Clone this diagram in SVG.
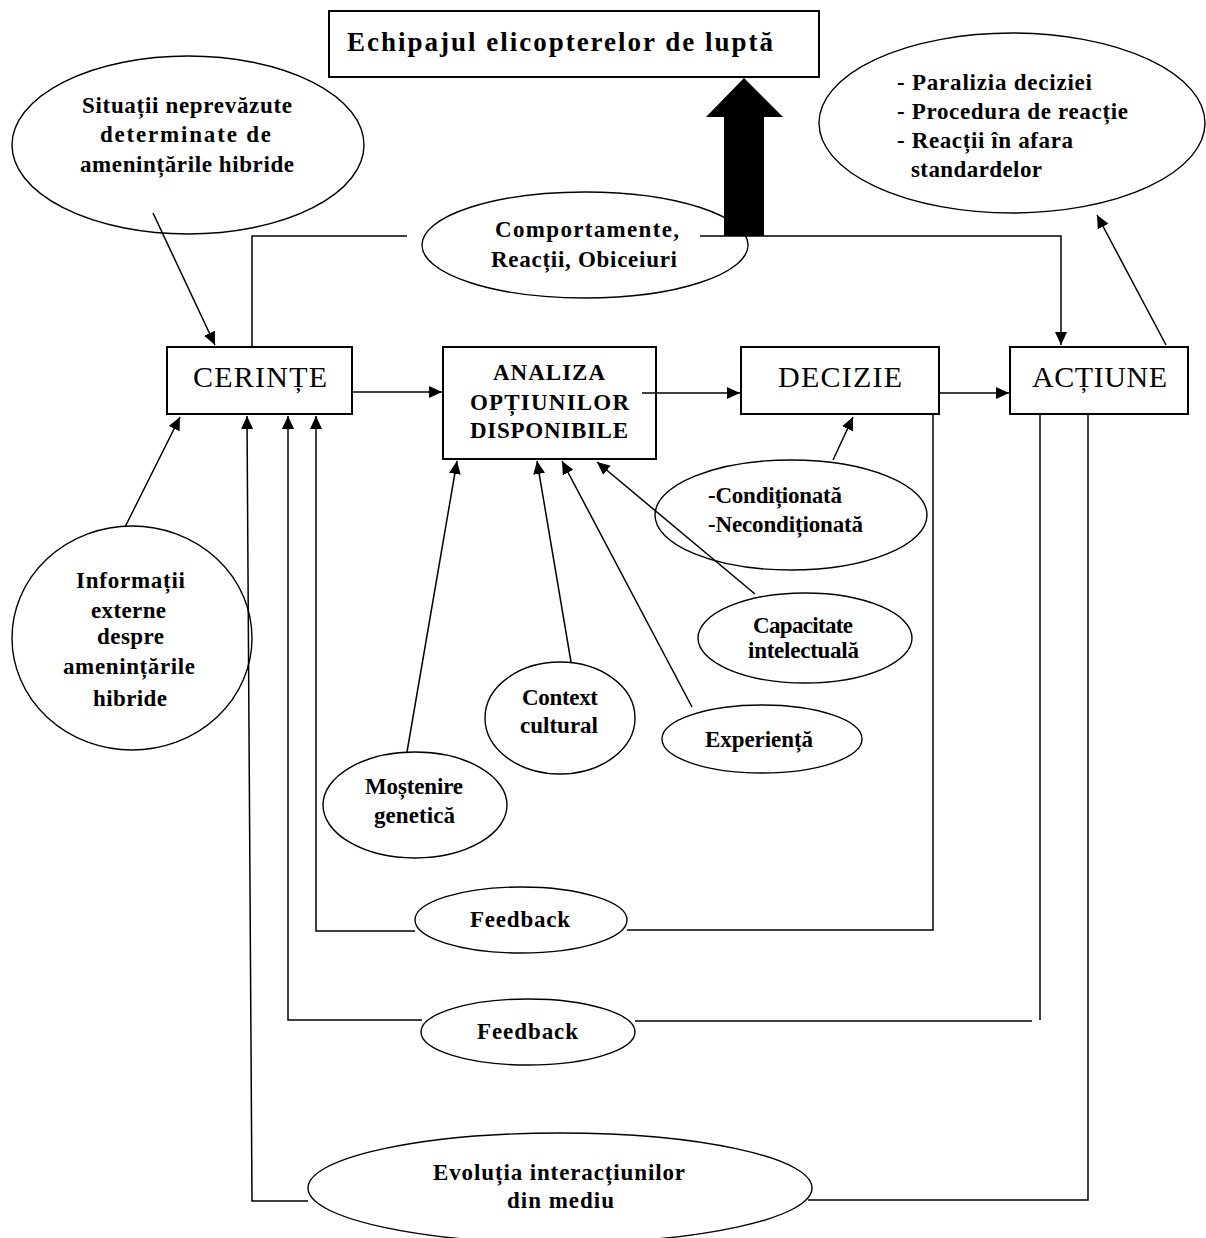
<svg xmlns="http://www.w3.org/2000/svg" width="1206" height="1238" viewBox="0 0 1206 1238">
<style>
.bg{fill:#fff}
.box{fill:#fff;stroke:#000;stroke-width:2}
.ell{fill:#fff;stroke:#000;stroke-width:1.4}
.ln{fill:none;stroke:#000;stroke-width:1.5}
.ar{fill:none;stroke:#000;stroke-width:1.5;marker-end:url(#ah)}
text{font-family:"Liberation Serif","Times New Roman",serif;fill:#000}
.b{font-weight:bold;font-size:23px}
.n{font-weight:normal;font-size:30px}
.ti{font-weight:bold;font-size:27px}
</style>
<defs>
<marker id="ah" markerUnits="userSpaceOnUse" markerWidth="14" markerHeight="12" refX="13" refY="6" orient="auto">
<path d="M0,0 L13,6 L0,12 z" fill="#000"/>
</marker>
</defs>
<rect class="bg" x="0" y="0" width="1206" height="1238"/>

<g id="node-echipaj">
<rect class="box" x="329" y="11" width="490" height="66"/>
<text class="ti" x="347" y="51" textLength="426" lengthAdjust="spacing">Echipajul elicopterelor de luptă</text>
</g>

<g id="node-situatii">
<ellipse class="ell" cx="188" cy="145" rx="176" ry="89"/>
<text class="b" x="82" y="113" textLength="210" lengthAdjust="spacing">Situații neprevăzute</text>
<text class="b" x="100" y="142" textLength="171" lengthAdjust="spacing">determinate de</text>
<text class="b" x="80" y="172" textLength="214" lengthAdjust="spacing">amenințările hibride</text>
</g>

<g id="node-reactii-list">
<ellipse class="ell" cx="1012" cy="123" rx="193" ry="90"/>
<text class="b" x="897" y="90" textLength="195" lengthAdjust="spacing">- Paralizia deciziei</text>
<text class="b" x="897" y="119" textLength="231" lengthAdjust="spacing">- Procedura de reacție</text>
<text class="b" x="897" y="148" textLength="176" lengthAdjust="spacing">- Reacții în afara</text>
<text class="b" x="911" y="177" textLength="131" lengthAdjust="spacing">standardelor</text>
</g>

<g id="node-comportamente">
<ellipse class="ell" cx="585" cy="245" rx="163" ry="53"/>
<text class="b" x="495" y="237" textLength="184" lengthAdjust="spacing">Comportamente,</text>
<text class="b" x="491" y="267" textLength="186" lengthAdjust="spacing">Reacții, Obiceiuri</text>
</g>

<g id="node-cerinte">
<rect class="box" x="167" y="347" width="185" height="67"/>
<text class="n" x="193" y="387" textLength="134" lengthAdjust="spacing">CERINȚE</text>
</g>

<g id="node-analiza">
<rect class="box" x="443" y="347" width="213" height="112"/>
<text class="b" x="493" y="380" textLength="112" lengthAdjust="spacing">ANALIZA</text>
<text class="b" x="470" y="410" textLength="159" lengthAdjust="spacing">OPȚIUNILOR</text>
<text class="b" x="470" y="438" textLength="158" lengthAdjust="spacing">DISPONIBILE</text>
</g>

<g id="node-decizie">
<rect class="box" x="741" y="347" width="198" height="67"/>
<text class="n" x="778" y="387" textLength="124" lengthAdjust="spacing">DECIZIE</text>
</g>

<g id="node-actiune">
<rect class="box" x="1010" y="347" width="178" height="67"/>
<text class="n" x="1032" y="387" textLength="135" lengthAdjust="spacing">ACȚIUNE</text>
</g>

<g id="node-conditionata">
<ellipse class="ell" cx="791" cy="515" rx="136" ry="55"/>
<text class="b" x="708" y="503" textLength="134" lengthAdjust="spacing">-Condiționată</text>
<text class="b" x="708" y="532" textLength="155" lengthAdjust="spacing">-Necondiționată</text>
</g>

<g id="node-informatii">
<ellipse class="ell" cx="132" cy="638" rx="120" ry="112"/>
<text class="b" x="76" y="588" textLength="109" lengthAdjust="spacing">Informații</text>
<text class="b" x="91" y="618" textLength="75" lengthAdjust="spacing">externe</text>
<text class="b" x="97" y="644" textLength="67" lengthAdjust="spacing">despre</text>
<text class="b" x="63" y="674" textLength="132" lengthAdjust="spacing">amenințările</text>
<text class="b" x="93" y="706" textLength="74" lengthAdjust="spacing">hibride</text>
</g>

<g id="node-capacitate">
<ellipse class="ell" cx="805" cy="638" rx="107" ry="45"/>
<text class="b" x="753" y="633" textLength="100" lengthAdjust="spacing">Capacitate</text>
<text class="b" x="748" y="658" textLength="111" lengthAdjust="spacing">intelectuală</text>
</g>

<g id="node-context">
<ellipse class="ell" cx="560" cy="718" rx="75" ry="56"/>
<text class="b" x="522" y="705" textLength="76" lengthAdjust="spacing">Context</text>
<text class="b" x="520" y="733" textLength="78" lengthAdjust="spacing">cultural</text>
</g>

<g id="node-experienta">
<ellipse class="ell" cx="762" cy="739" rx="100" ry="34"/>
<text class="b" x="705" y="747" textLength="108" lengthAdjust="spacing">Experiență</text>
</g>

<g id="node-mostenire">
<ellipse class="ell" cx="415" cy="805" rx="92" ry="53"/>
<text class="b" x="365" y="794" textLength="98" lengthAdjust="spacing">Moștenire</text>
<text class="b" x="374" y="823" textLength="81" lengthAdjust="spacing">genetică</text>
</g>

<g id="node-feedback1">
<ellipse class="ell" cx="521" cy="920" rx="106" ry="33"/>
<text class="b" x="470" y="927" textLength="100" lengthAdjust="spacing">Feedback</text>
</g>

<g id="node-feedback2">
<ellipse class="ell" cx="528" cy="1032" rx="107" ry="33"/>
<text class="b" x="477" y="1039" textLength="101" lengthAdjust="spacing">Feedback</text>
</g>

<g id="node-evolutia">
<ellipse class="ell" cx="560" cy="1188" rx="252" ry="55"/>
<text class="b" x="433" y="1180" textLength="252" lengthAdjust="spacing">Evoluția interacțiunilor</text>
<text class="b" x="507" y="1208" textLength="107" lengthAdjust="spacing">din mediu</text>
</g>

<g id="connectors">
<polygon points="724,236 724,117 706,117 744,78 783,117 764,117 764,236" fill="#000"/>
<line class="ar" x1="153" y1="213" x2="215" y2="345"/>
<polyline class="ln" points="407,236 252,236 252,347"/>
<polyline class="ar" points="700,236 1061,236 1061,345"/>
<line class="ar" x1="1166" y1="345" x2="1097" y2="215"/>
<line class="ar" x1="352" y1="392" x2="442" y2="392"/>
<line class="ar" x1="642" y1="393" x2="740" y2="393"/>
<line class="ar" x1="939" y1="393" x2="1009" y2="393"/>
<line class="ar" x1="125" y1="527" x2="180" y2="417"/>
<line class="ar" x1="833" y1="460" x2="853" y2="417"/>
<line class="ar" x1="407" y1="752" x2="457" y2="461"/>
<line class="ar" x1="571" y1="662" x2="537" y2="461"/>
<line class="ar" x1="692" y1="707" x2="562" y2="461"/>
<line class="ar" x1="755" y1="594" x2="597" y2="462"/>
<polyline class="ar" points="415,931 316,931 316,416"/>
<polyline class="ln" points="627,930 933,930 933,414"/>
<polyline class="ar" points="422,1020 288,1020 288,416"/>
<polyline class="ln" points="635,1021 1032,1021"/>
<line class="ln" x1="1040" y1="414" x2="1040" y2="1020"/>
<polyline class="ar" points="308,1201 252,1201 247,416"/>
<polyline class="ln" points="808,1200 1088,1200 1088,414"/>
</g>
</svg>
